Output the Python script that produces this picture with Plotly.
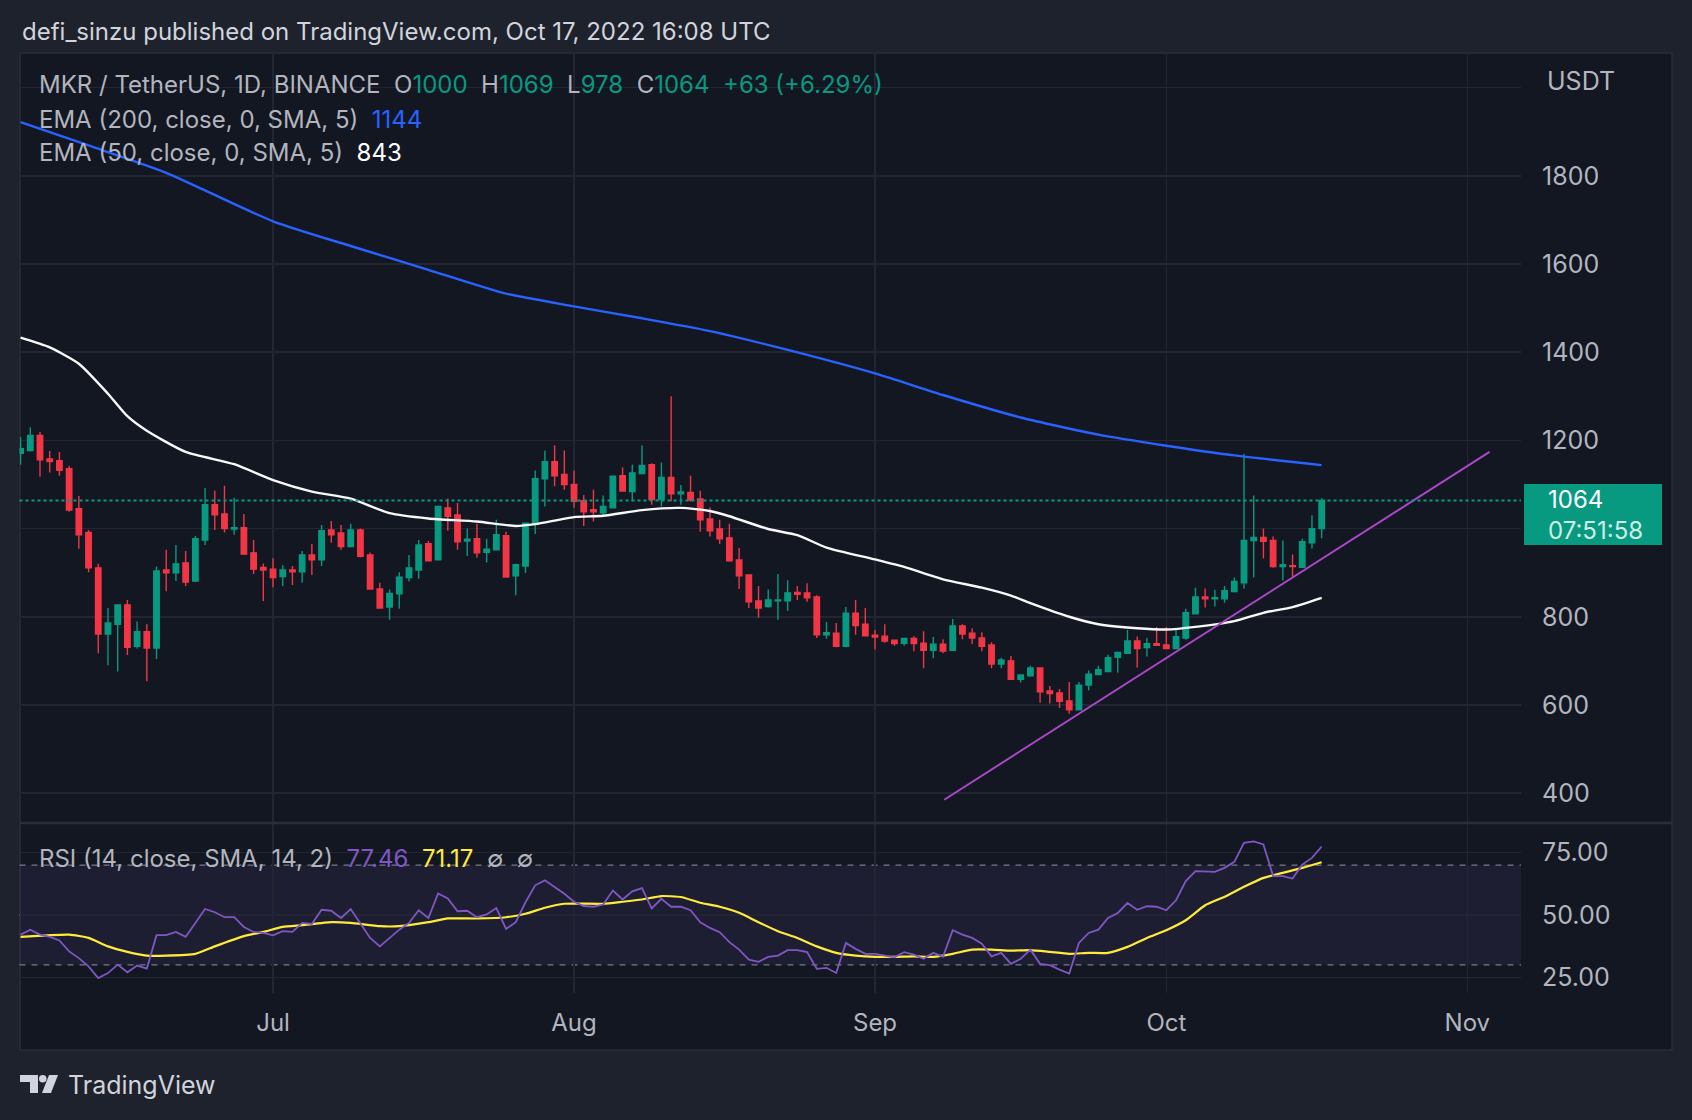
import plotly.graph_objects as go
import pandas as pd

W, H = 1692, 1120

# ---------------- data ----------------
start_date = "2022-06-05"

# daily candles Jun 5 .. Oct 17 2022
opens = [
    # Jun 5-30
    1171, 1177, 1211, 1158, 1154, 1136, 1045, 991, 911, 761, 783, 827, 733,
    766, 729, 906, 900, 922, 881, 974, 1054, 1033, 999, 1002, 945, 912,
    # Jul
    908, 891, 906, 902, 940, 929, 997, 990, 959, 997, 940, 863, 822, 852, 889,
    906, 966, 929, 1047, 1031, 972, 977, 946, 952, 984, 893, 915, 1010, 1113,
    1152, 1123,
    # Aug
    1100, 1063, 1043, 1036, 1047, 1120, 1084, 1125, 1145, 1066, 1116, 1079,
    1082, 1067, 1022, 999, 979, 929, 895, 836, 823, 836, 836, 855, 854, 845,
    759, 763, 733, 808, 783,
    # Sep
    758, 756, 747, 740, 751, 740, 724, 738, 724, 779, 763, 752, 736, 693, 700,
    658, 666, 684, 632, 627, 609, 589, 645, 669, 676, 708, 717, 745, 730, 739,
    # Oct 1-17
    736, 728, 752, 807, 845, 841, 841, 857, 877, 973, 980, 973, 914, 916, 912,
    968, 1000,
]
highs = [
    1208, 1230, 1219, 1176, 1174, 1142, 1074, 997, 920, 820, 828, 838, 789,
    783, 914, 952, 963, 949, 983, 1092, 1086, 1097, 1070, 1033, 974, 921,
    933, 917, 915, 949, 965, 1008, 1017, 1008, 1011, 1000, 946, 877, 862, 901,
    940, 974, 972, 1052, 1068, 1058, 1000, 1011, 977, 1020, 993, 920, 1013,
    1132, 1177, 1189, 1177,
    1132, 1076, 1088, 1075, 1120, 1139, 1145, 1189, 1148, 1150, 1300, 1099,
    1120, 1086, 1048, 1020, 1011, 956, 895, 870, 862, 897, 883, 870, 876, 849,
    788, 786, 822, 838, 820,
    770, 783, 747, 751, 756, 767, 754, 749, 795, 783, 774, 765, 742, 707, 711,
    668, 689, 684, 643, 636, 652, 652, 678, 689, 714, 721, 770, 755, 752, 777,
    777, 773, 818, 866, 864, 861, 870, 889, 1170, 1075, 1000, 982, 973, 941,
    977, 1030, 1069,
]
lows = [
    1145, 1175, 1118, 1127, 1120, 1038, 954, 901, 717, 690, 676, 713, 728,
    654, 704, 858, 881, 870, 879, 963, 997, 991, 986, 941, 897, 836,
    867, 870, 872, 877, 895, 915, 968, 952, 957, 935, 861, 818, 793, 818, 880,
    886, 927, 929, 995, 952, 938, 934, 923, 952, 890, 849, 899, 988, 1050,
    1096, 1088,
    1047, 1006, 1016, 1031, 1047, 1085, 1062, 1123, 1054, 1050, 1062, 1054,
    1061, 993, 982, 965, 925, 863, 820, 798, 821, 793, 813, 838, 834, 752,
    750, 731, 731, 759, 757,
    726, 741, 734, 734, 722, 683, 706, 717, 724, 749, 738, 722, 683, 683, 658,
    651, 664, 605, 603, 593, 580, 589, 633, 669, 676, 673, 717, 685, 710, 735,
    728, 728, 748, 805, 821, 823, 832, 855, 864, 889, 932, 911, 882, 891, 912,
    955, 978,
]
closes = [
    1181, 1211, 1156, 1152, 1132, 1042, 986, 911, 761, 786, 827, 731, 766,
    729, 904, 900, 920, 879, 977, 1054, 1031, 1000, 1002, 942, 908, 906,
    889, 906, 902, 940, 929, 995, 986, 959, 997, 937, 863, 820, 853, 890, 911,
    963, 927, 1050, 1028, 970, 976, 945, 953, 986, 890, 918, 1012, 1113, 1152,
    1120, 1100,
    1062, 1038, 1038, 1050, 1119, 1085, 1126, 1143, 1066, 1116, 1079, 1083,
    1065, 1020, 995, 977, 927, 893, 834, 820, 838, 838, 854, 851, 843, 759,
    764, 733, 808, 780, 757,
    754, 745, 739, 751, 739, 724, 738, 722, 779, 761, 752, 733, 693, 702, 658,
    668, 684, 630, 626, 608, 589, 645, 670, 680, 707, 719, 745, 728, 739, 735,
    728, 755, 809, 845, 841, 843, 859, 880, 973, 980, 971, 914, 918, 914, 970,
    1000, 1064,
]
rsi_vals = [
    42.1, 44.1, 42.1, 41.2, 39.8, 35.4, 32.7, 29.4, 24.7, 26.7, 30.1, 27.0,
    29.7, 28.5, 41.9, 41.9, 43.2, 41.2, 46.8, 52.4, 51.1, 49.1, 49.1, 45.2,
    43.2, 42.8,
    41.8, 43.5, 43.2, 46.8, 46.4, 52.1, 51.7, 48.8, 52.4, 46.8, 40.8, 37.4,
    40.8, 44.1, 46.8, 51.9, 48.8, 58.6, 56.6, 51.5, 51.7, 49.1, 50.2, 52.8,
    44.4, 47.1, 55.1, 61.9, 63.9, 61.1, 58.5,
    55.3, 53.6, 53.3, 54.2, 59.8, 56.2, 59.5, 60.8, 52.6, 56.5, 53.3, 53.3,
    51.9, 47.1, 44.8, 43.1, 39.1, 36.1, 32.1, 31.2, 33.2, 33.7, 35.9, 35.9,
    35.1, 28.4, 28.8, 26.7, 38.8, 36.4, 34.4,
    34.4, 33.7, 33.0, 35.1, 34.1, 32.4, 34.8, 33.2, 43.9, 42.1, 40.8, 38.5,
    33.4, 34.8, 30.4, 32.4, 36.1, 30.4, 29.9, 28.1, 26.5, 38.8, 42.8, 44.1,
    48.8, 50.8, 54.8, 52.1, 53.5, 53.3,
    51.9, 55.9, 63.6, 67.6, 67.3, 67.3, 68.9, 71.3, 78.9, 79.5, 78.3, 65.6,
    65.6, 64.6, 70.2, 72.9, 77.46,
]

ema200_dates = ["2022-06-05", "2022-06-12", "2022-06-20", "2022-07-01", "2022-07-09",
                "2022-07-17", "2022-07-25", "2022-08-01", "2022-08-08", "2022-08-15",
                "2022-08-22", "2022-09-01", "2022-09-08", "2022-09-16", "2022-09-24",
                "2022-10-01", "2022-10-08", "2022-10-17"]
ema200_vals = [1922, 1869, 1807, 1697, 1641, 1587, 1533, 1504, 1477, 1448,
               1411, 1352, 1303, 1252, 1213, 1188, 1166, 1144]

ema50_dates = ["2022-06-05", "2022-06-08", "2022-06-11", "2022-06-14", "2022-06-16",
               "2022-06-18", "2022-06-22", "2022-06-27", "2022-07-01", "2022-07-05",
               "2022-07-09", "2022-07-13", "2022-07-17", "2022-07-22", "2022-07-26",
               "2022-07-28", "2022-08-01", "2022-08-04", "2022-08-08", "2022-08-12",
               "2022-08-15", "2022-08-17", "2022-08-21", "2022-08-24", "2022-08-27",
               "2022-09-01", "2022-09-04", "2022-09-08", "2022-09-12", "2022-09-15",
               "2022-09-17", "2022-09-21", "2022-09-24", "2022-09-28", "2022-10-01",
               "2022-10-04", "2022-10-08", "2022-10-11", "2022-10-14", "2022-10-17"]
ema50_vals = [1433, 1411, 1374, 1306, 1255, 1222, 1174, 1146, 1110, 1084,
              1068, 1035, 1023, 1016, 1006, 1010, 1026, 1029, 1042, 1047,
              1040, 1028, 999, 985, 957, 930, 913, 885, 866, 848,
              831, 800, 783, 774, 771, 777, 790, 809, 822, 843]

rsi_ma_dates = ["2022-06-05", "2022-06-10", "2022-06-12", "2022-06-14", "2022-06-16",
                "2022-06-18", "2022-06-20", "2022-06-23", "2022-06-25", "2022-06-28",
                "2022-06-30", "2022-07-02", "2022-07-04", "2022-07-07", "2022-07-09",
                "2022-07-12", "2022-07-14", "2022-07-17", "2022-07-19", "2022-07-22",
                "2022-07-25", "2022-07-27", "2022-07-29", "2022-07-31", "2022-08-04",
                "2022-08-06", "2022-08-08", "2022-08-10", "2022-08-12", "2022-08-14",
                "2022-08-16", "2022-08-18", "2022-08-20", "2022-08-22", "2022-08-24",
                "2022-08-26", "2022-08-28", "2022-08-30", "2022-09-01", "2022-09-03",
                "2022-09-05", "2022-09-07", "2022-09-09", "2022-09-11", "2022-09-13",
                "2022-09-15", "2022-09-17", "2022-09-19", "2022-09-21", "2022-09-23",
                "2022-09-25", "2022-09-27", "2022-09-29", "2022-10-01", "2022-10-03",
                "2022-10-05", "2022-10-07", "2022-10-09", "2022-10-11", "2022-10-13",
                "2022-10-15", "2022-10-17"]
rsi_ma_vals = [41.2, 42.1, 40.8, 37.4, 35.2, 33.7, 33.7, 34.4, 37.4, 41.5,
               43.2, 45.2, 45.9, 47.1, 46.8, 45.5, 45.5, 47.1, 48.6, 48.6,
               49.1, 50.5, 52.9, 54.5, 54.5, 55.3, 56.2, 57.6, 57.2, 54.9,
               53.3, 50.9, 47.1, 43.5, 40.8, 37.4, 34.8, 33.7, 33.2, 33.2,
               33.4, 33.2, 34.4, 36.1, 36.1, 35.7, 35.9, 35.2, 34.4, 34.8,
               34.8, 37.2, 40.8, 43.9, 47.9, 53.9, 57.3, 61.3, 64.9, 66.9,
               68.9, 71.17]

trend_dates = ["2022-09-08 03:00", "2022-11-03 07:00"]
trend_prices = [385, 1174]

month_ticks = ["2022-07-01", "2022-08-01", "2022-09-01", "2022-10-01", "2022-11-01"]
month_labels = ["Jul", "Aug", "Sep", "Oct", "Nov"]
price_ticks = [400, 600, 800, 1000, 1200, 1400, 1600, 1800, 2000]
# 1000 is hidden behind the last-price label and 2000 behind "USDT" in the reference
price_labels = ["400", "600", "800", "", "1200", "1400", "1600", "1800", ""]
rsi_ticks = [25, 50, 75]
rsi_labels = ["25.00", "50.00", "75.00"]
rsi_levels = [30, 50, 70]
rsi_band = [30, 70]

header_values = {"O": "1000", "H": "1069", "L": "978", "C": "1064"}
change_text = "+63 (+6.29%)"
ema200_last = "1144"
ema50_last = "843"
rsi_last = "77.46"
rsi_ma_last = "71.17"
countdown = "07:51:58"

assert len(opens) == len(highs) == len(lows) == len(closes) == len(rsi_vals) == 135

dates = pd.date_range(start_date, periods=len(closes), freq="D")

# ---------------- styling ----------------
FONT = "Inter"
OUTER = "#1e222d"
PANEL = "#131722"
GRID = "#232632"
TXT = "#b2b5be"
UP = "#089981"
DOWN = "#f23645"
FS = 24      # legend / title text
AFS = 25     # axis labels


def fx(px):
    return px / W


def fy(py):
    return 1 - py / H


fig = go.Figure()

fig.add_trace(go.Candlestick(
    x=dates, open=opens, high=highs, low=lows, close=closes,
    increasing=dict(line=dict(color=UP, width=1.4), fillcolor=UP),
    decreasing=dict(line=dict(color=DOWN, width=1.4), fillcolor=DOWN),
    xaxis="x", yaxis="y", hoverinfo="skip", showlegend=False,
))
fig.add_trace(go.Scatter(
    x=ema200_dates, y=ema200_vals, mode="lines",
    line=dict(color="#2962ff", width=2.4, shape="spline", smoothing=0.6),
    xaxis="x", yaxis="y", hoverinfo="skip", showlegend=False,
))
fig.add_trace(go.Scatter(
    x=ema50_dates, y=ema50_vals, mode="lines",
    line=dict(color="#f8f8f8", width=2.4, shape="spline", smoothing=0.6),
    xaxis="x", yaxis="y", hoverinfo="skip", showlegend=False,
))
fig.add_trace(go.Scatter(
    x=trend_dates, y=trend_prices, mode="lines",
    line=dict(color="#ab47c8", width=2),
    xaxis="x", yaxis="y", hoverinfo="skip", showlegend=False,
))
fig.add_trace(go.Scatter(
    x=rsi_ma_dates, y=rsi_ma_vals, mode="lines",
    line=dict(color="#ffeb3b", width=2.2, shape="spline", smoothing=0.5),
    xaxis="x2", yaxis="y2", hoverinfo="skip", showlegend=False,
))
fig.add_trace(go.Scatter(
    x=dates, y=rsi_vals, mode="lines",
    line=dict(color="#7e57c2", width=1.8),
    xaxis="x2", yaxis="y2", hoverinfo="skip", showlegend=False,
))

x_range = ["2022-06-04 21:20", "2022-11-06 12:40"]
xdom = [fx(19.5), fx(1521)]

shapes = []
# panel
shapes.append(dict(type="rect", xref="paper", yref="paper",
                   x0=fx(20), x1=fx(1672), y0=fy(1050), y1=fy(53),
                   fillcolor=PANEL, line=dict(color="#2a2e39", width=1.5), layer="below"))
# pane separator
shapes.append(dict(type="line", xref="paper", yref="paper",
                   x0=fx(20), x1=fx(1672), y0=fy(823), y1=fy(823),
                   line=dict(color="#2a2e39", width=2.5), layer="above"))
# RSI band
shapes.append(dict(type="rect", xref="x2 domain", yref="y2",
                   x0=0, x1=1, y0=rsi_band[0], y1=rsi_band[1],
                   fillcolor="rgba(126,87,194,0.11)", line=dict(width=0), layer="below"))
for lv in rsi_levels:
    shapes.append(dict(type="line", xref="x2 domain", yref="y2",
                       x0=0, x1=1, y0=lv, y1=lv,
                       line=dict(color="#787b86", width=1.4, dash="6px,6px"), layer="below"))
# last price dotted line
shapes.append(dict(type="line", xref="x domain", yref="y",
                   x0=0, x1=1, y0=closes[-1], y1=closes[-1],
                   line=dict(color=UP, width=2, dash="dot"), layer="above"))
# last price label box
shapes.append(dict(type="rect", xref="paper", yref="paper",
                   x0=fx(1524), x1=fx(1662), y0=fy(545), y1=fy(484),
                   fillcolor=UP, line=dict(width=0), layer="above"))


def P(x, y):
    return f"{fx(x):.5f},{fy(y):.5f}"


# TradingView logo (simplified)
shapes.append(dict(type="path", xref="paper", yref="paper",
                   path=f"M{P(20,1075)} L{P(38,1075)} L{P(38,1093)} L{P(30,1093)} L{P(30,1082)} L{P(20,1082)} Z",
                   fillcolor="#d1d4dc", line=dict(width=0)))
shapes.append(dict(type="circle", xref="paper", yref="paper",
                   x0=fx(39), x1=fx(46.5), y0=fy(1082.5), y1=fy(1075),
                   fillcolor="#d1d4dc", line=dict(width=0)))
shapes.append(dict(type="path", xref="paper", yref="paper",
                   path=f"M{P(49,1075)} L{P(58,1075)} L{P(51,1093)} L{P(42,1093)} Z",
                   fillcolor="#d1d4dc", line=dict(width=0)))

annotations = []


def note(x, y, text, size=FS, color=TXT, anchor="left"):
    annotations.append(dict(xref="paper", yref="paper", x=fx(x), y=fy(y),
                            text=text, showarrow=False, xanchor=anchor, yanchor="middle",
                            align="left",
                            font=dict(family=FONT, size=size, color=color)))


def span(t, c):
    return f"<span style='color:{c}'>{t}</span>"


sp = "\u00a0\u00a0"
note(19.5, 31, "defi_sinzu published on TradingView.com, Oct 17, 2022 16:08 UTC", FS, "#d1d4dc")
hdr = "MKR / TetherUS, 1D, BINANCE" + sp
for k, v in header_values.items():
    hdr += k + span(v, UP) + sp
hdr += span(change_text, UP)
note(36.5, 85, hdr)
note(36.5, 120, "EMA (200, close, 0, SMA, 5)" + sp + span(ema200_last, "#2962ff"))
note(36.5, 153, "EMA (50, close, 0, SMA, 5)" + sp + span(ema50_last, "#ffffff"))
note(36.5, 858, "RSI (14, close, SMA, 14, 2)" + sp + span(rsi_last, "#7e57c2") + sp
     + span(rsi_ma_last, "#ffeb3b") + sp + "\u2205" + sp + "\u2205")
note(1545, 81, "USDT", AFS)
# last price label: both lines in one text block
note(1546, 515, span(f"{closes[-1]}", "#ffffff") + "<br>" + span(countdown, "#cdeee5"), 24)
note(66, 1085, "TradingView", 25, "#d1d4dc")

axis_common = dict(showline=False, zeroline=False, ticks="", fixedrange=True)

fig.update_layout(
    width=W, height=H, autosize=False,
    margin=dict(l=0, r=0, t=0, b=0, pad=0),
    paper_bgcolor=OUTER, plot_bgcolor="rgba(0,0,0,0)",
    showlegend=False, boxgap=0.2,
    shapes=shapes, annotations=annotations,
    xaxis=dict(domain=xdom, anchor="y", type="date", range=x_range,
               tickmode="array", tickvals=month_ticks, showticklabels=False,
               showgrid=True, gridcolor=GRID, gridwidth=1.5,
               rangeslider=dict(visible=False), **axis_common),
    xaxis2=dict(domain=xdom, anchor="y2", type="date", range=x_range, matches="x",
                tickmode="array", tickvals=month_ticks, ticktext=month_labels,
                showgrid=True, gridcolor=GRID, gridwidth=1.5,
                tickfont=dict(family=FONT, size=24, color=TXT), ticklabelstandoff=13,
                **axis_common),
    yaxis=dict(domain=[fy(823), fy(54)], anchor="x", side="right",
               range=[332.2, 2076.5], tickmode="array", tickvals=price_ticks,
               ticktext=price_labels, showgrid=True, gridcolor=GRID, gridwidth=1.5,
               tickfont=dict(family=FONT, size=AFS, color=TXT), ticklabelstandoff=20,
               **axis_common),
    yaxis2=dict(domain=[fy(993), fy(823)], anchor="x2", side="right",
                range=[18.7, 86.9], tickmode="array", tickvals=rsi_ticks,
                ticktext=rsi_labels, showgrid=True, gridcolor=GRID, gridwidth=1.5,
                tickfont=dict(family=FONT, size=AFS, color=TXT), ticklabelstandoff=20,
                **axis_common),
)

fig.write_html(
    "out.html",
    config={"displayModeBar": False, "staticPlot": True},
    post_script=(
        "document.body.style.margin='0';"
        f"document.body.style.background='{OUTER}';"
    ),
)
